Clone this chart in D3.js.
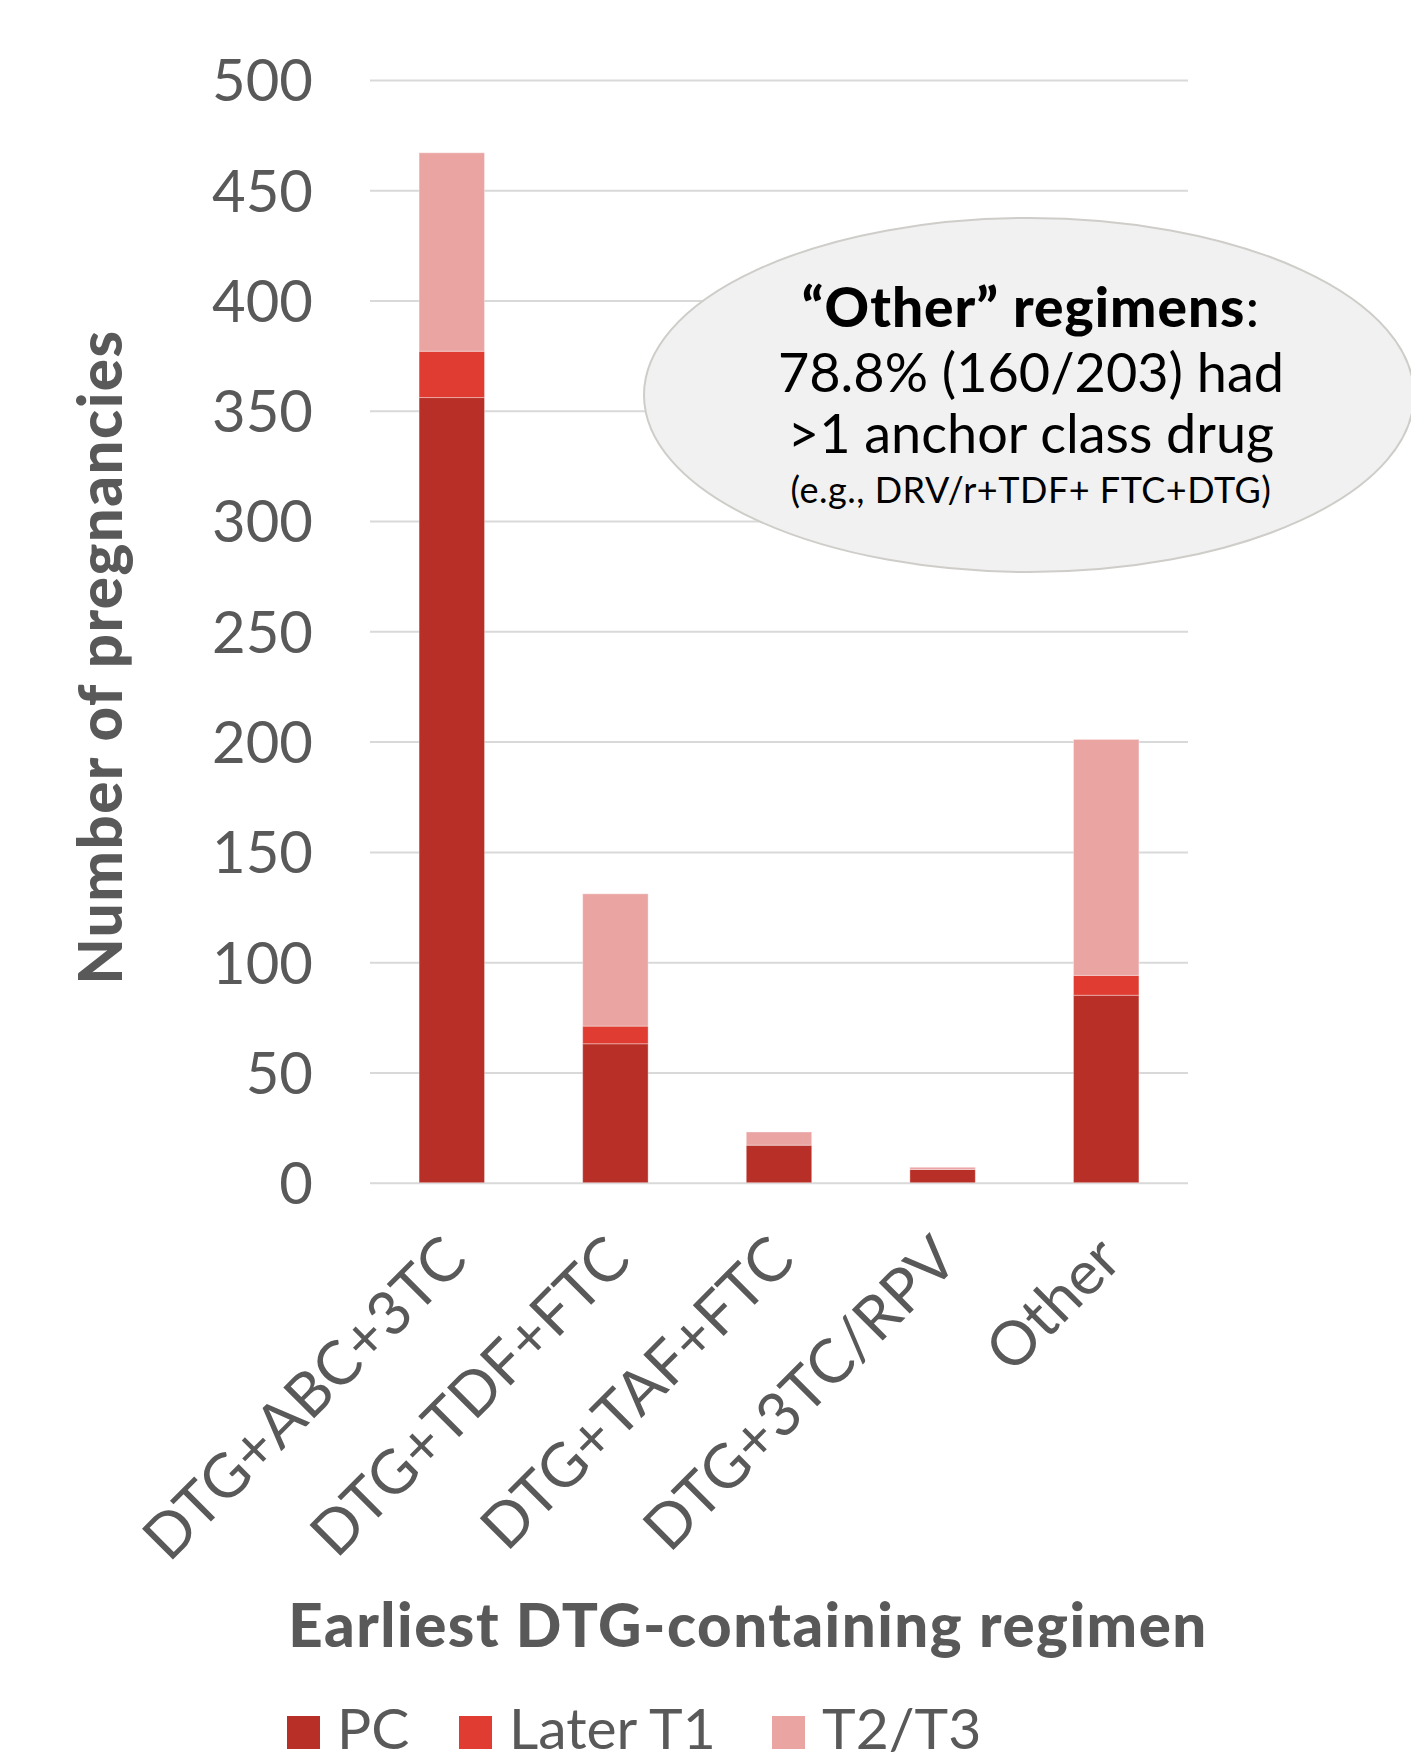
<!DOCTYPE html>
<html>
<head>
<meta charset="utf-8">
<script src="https://cdn.jsdelivr.net/npm/d3@7"></script>
<style>
  body { margin: 0; background: #fff; }
  svg { display: block; }
  text { font-family: Lato, "Open Sans", sans-serif; }
</style>
</head>
<body>
<svg width="1411" height="1755"></svg>
<script>
// regimens on the x axis
const categories = ['DTG+ABC+3TC', 'DTG+TDF+FTC', 'DTG+TAF+FTC', 'DTG+3TC/RPV', 'Other'];

// stacked series, bottom to top
const pc = [356, 63, 17, 6, 85];
const laterT1 = [21, 8, 0, 0, 9];
const t2t3 = [90, 60, 6, 1, 107];

const seriesNames = ['PC', 'Later T1', 'T2/T3'];
const seriesColors = ['#b82f27', '#e03c32', '#eaa5a3'];

const yTicks = [0, 50, 100, 150, 200, 250, 300, 350, 400, 450, 500];

const noteLines = ['78.8% (160/203) had', '>1 anchor class drug'];
const noteSmall = '(e.g., DRV/r+TDF+ FTC+DTG)';

const grey = '#595959';

const svg = d3.select('svg');

const x = d3.scaleBand()
    .domain(categories)
    .range([370, 1188])
    .paddingInner(0.6)
    .paddingOuter(0.3);

const y = d3.scaleLinear()
    .domain([0, 500])
    .range([1182.7, 80]);

// gridlines + y labels
const yAxis = svg.append('g')
    .attr('transform', 'translate(370,0)')
    .call(d3.axisLeft(y).tickValues(yTicks).tickSize(-818).tickPadding(57));
yAxis.select('.domain').remove();
yAxis.selectAll('line').attr('stroke', '#d9d9d9').attr('stroke-width', 2);
yAxis.selectAll('text')
    .attr('fill', grey)
    .style('font-size', '58px')
    .attr('dy', '0.36em');

// stacked bars
const table = categories.map((c, i) => ({ cat: c, PC: pc[i], 'Later T1': laterT1[i], 'T2/T3': t2t3[i] }));
const stacked = d3.stack().keys(seriesNames)(table);

svg.append('g')
    .selectAll('g')
    .data(stacked)
    .join('g')
    .attr('fill', (d, i) => seriesColors[i])
    .selectAll('rect')
    .data(d => d.filter(p => p[1] > p[0]))
    .join('rect')
    .attr('x', d => x(d.data.cat))
    .attr('width', x.bandwidth())
    .attr('y', d => y(d[1]))
    .attr('height', d => y(d[0]) - y(d[1]))
    .attr('stroke', '#fff')
    .attr('stroke-opacity', 0.35)
    .attr('stroke-width', 1);

// x labels, rotated
const xAxis = svg.append('g')
    .attr('transform', 'translate(0,1182.7)')
    .call(d3.axisBottom(x).tickSize(0).tickPadding(0));
xAxis.select('.domain').remove();
xAxis.selectAll('text')
    .attr('fill', grey)
    .style('font-size', '61px')
    .attr('text-anchor', 'end')
    .attr('dy', null)
    .attr('y', null)
    .attr('transform', 'translate(18,80) rotate(-45)');

// axis titles
svg.append('text')
    .attr('transform', 'translate(122,657) rotate(-90)')
    .attr('text-anchor', 'middle')
    .attr('fill', grey)
    .style('font-size', '60px')
    .style('letter-spacing', '1.5px')
    .style('font-weight', 900)
    .text('Number of pregnancies');

svg.append('text')
    .attr('x', 748)
    .attr('y', 1647)
    .attr('text-anchor', 'middle')
    .attr('fill', grey)
    .style('font-size', '60px')
    .style('letter-spacing', '1.5px')
    .style('font-weight', 900)
    .text('Earliest DTG-containing regimen');

// legend
const legendX = [287, 459, 772];
const legend = svg.append('g')
    .selectAll('g')
    .data(seriesNames)
    .join('g')
    .attr('transform', (d, i) => `translate(${legendX[i]},1716)`);
legend.append('rect')
    .attr('width', 33)
    .attr('height', 33)
    .attr('fill', (d, i) => seriesColors[i]);
legend.append('text')
    .attr('x', 50)
    .attr('y', 33)
    .attr('fill', grey)
    .style('font-size', '57px')
    .text(d => d);

// callout
const note = svg.append('g');
note.append('ellipse')
    .attr('cx', 1029)
    .attr('cy', 395)
    .attr('rx', 385)
    .attr('ry', 177)
    .attr('fill', '#f1f1f1')
    .attr('stroke', '#cfcdc9')
    .attr('stroke-width', 2);

const title = note.append('text')
    .attr('x', 1031)
    .attr('y', 327)
    .attr('text-anchor', 'middle')
    .attr('fill', '#000')
    .style('font-size', '55px')
    .style('letter-spacing', '1px');
title.append('tspan').style('font-weight', 900).text('\u201cOther\u201d regimens');
title.append('tspan').text(':');

note.selectAll('text.line')
    .data(noteLines)
    .join('text')
    .attr('class', 'line')
    .attr('x', 1031)
    .attr('y', (d, i) => 392 + i * 61)
    .attr('text-anchor', 'middle')
    .attr('fill', '#000')
    .style('font-size', '54px')
    .text(d => d);

note.append('text')
    .attr('x', 1031)
    .attr('y', 503)
    .attr('text-anchor', 'middle')
    .attr('fill', '#000')
    .style('font-size', '36px')
    .style('letter-spacing', '0.5px')
    .text(noteSmall);
</script>
</body>
</html>
